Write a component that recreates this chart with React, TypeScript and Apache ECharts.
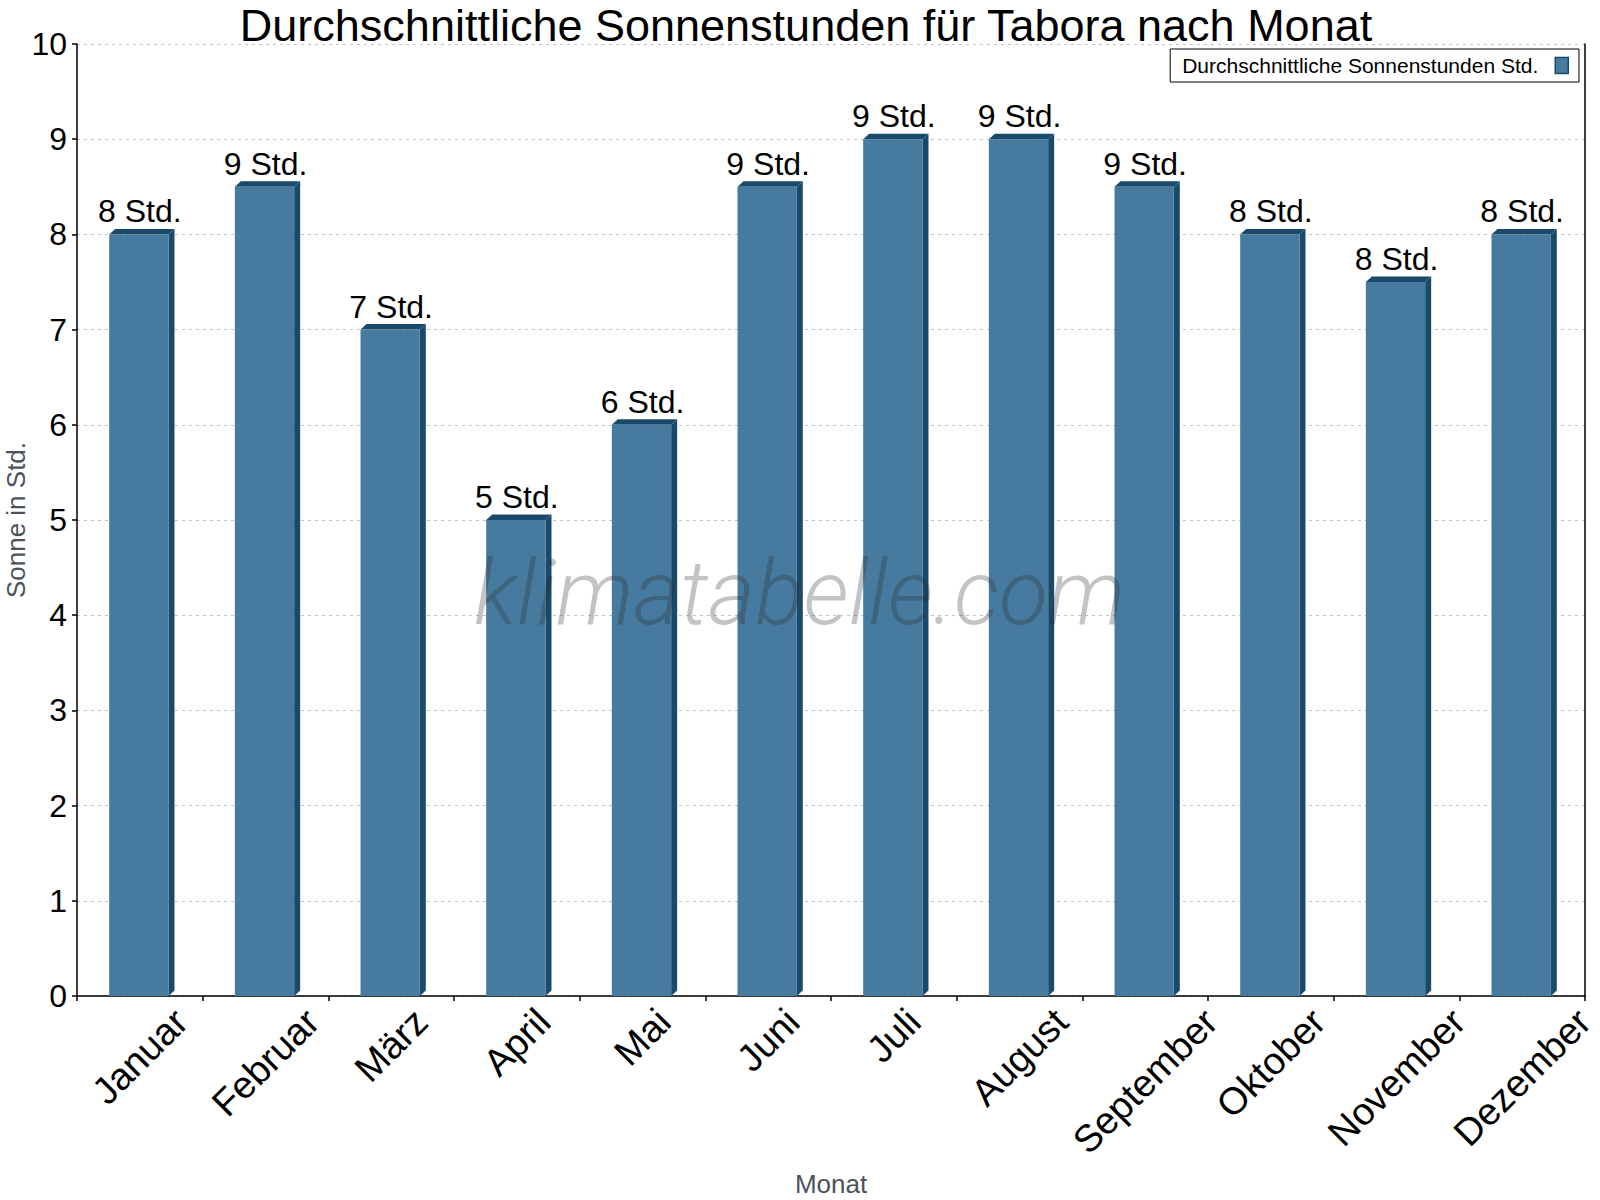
import React, { useEffect, useRef } from "react";
import * as echarts from "echarts";

const TITLE = "Durchschnittliche Sonnenstunden für Tabora nach Monat";
const SERIES_NAME = "Durchschnittliche Sonnenstunden Std.";
const months = ["Januar", "Februar", "März", "April", "Mai", "Juni", "Juli", "August", "September", "Oktober", "November", "Dezember"];
const sunHours = [8, 8.5, 7, 5, 6, 8.5, 9, 9, 8.5, 8, 7.5, 8];
const valueLabels = ["8 Std.", "9 Std.", "7 Std.", "5 Std.", "6 Std.", "9 Std.", "9 Std.", "9 Std.", "9 Std.", "8 Std.", "8 Std.", "8 Std."];
const yMin = 0;
const yMax = 10;
const yInterval = 1;

const FONT = '"Liberation Sans", Arial, Helvetica, sans-serif';
const FRONT = "#467b9f";
const DARK = "#194a6c";
const MONTH_FS = 38;

export default function App() {
  const ref = useRef<HTMLDivElement>(null);

  useEffect(() => {
    if (!ref.current) return;
    const chart = echarts.init(ref.current, undefined, { renderer: "svg" });

    const canvas = document.createElement("canvas");
    const ctx = canvas.getContext("2d");
    const measure = (t: string) => {
      if (!ctx) return t.length * MONTH_FS * 0.55;
      ctx.font = `${MONTH_FS}px "Liberation Sans", Arial, sans-serif`;
      return ctx.measureText(t).width;
    };

    const barData = sunHours.map((v, i) => [i, v]);
    const labelData = months.map((_, i) => [i, 0]);

    const option: any = {
      animation: false,
      backgroundColor: "#ffffff",
      title: {
        text: TITLE,
        left: 806,
        textAlign: "center",
        top: 3,
        padding: 0,
        textStyle: { fontFamily: FONT, fontSize: 45, lineHeight: 45, fontWeight: "normal", color: "#000" },
      },
      legend: {
        data: [{ name: SERIES_NAME, icon: "rect" }],
        right: 21,
        top: 49,
        align: "right",
        orient: "horizontal",
        backgroundColor: "#fff",
        borderColor: "#000",
        borderWidth: 1,
        borderRadius: 0,
        padding: [6, 10, 6, 12],
        itemWidth: 13,
        itemHeight: 16,
        itemStyle: { color: FRONT, borderColor: DARK, borderWidth: 1.5 },
        textStyle: { fontFamily: FONT, fontSize: 21, color: "#000", padding: [0, 12, 0, 0] },
      },
      grid: { left: 77, right: 15, top: 44, bottom: 204, containLabel: false, outerBoundsMode: "none" },
      xAxis: {
        type: "category",
        data: months,
        boundaryGap: true,
        name: "Monat",
        nameLocation: "middle",
        nameGap: 175,
        nameMoveOverlap: false,
        nameTextStyle: { fontFamily: FONT, fontSize: 26, color: "#4b525a" },
        axisLine: { show: true, lineStyle: { color: "#000", width: 1.5 } },
        axisTick: { show: true, inside: false, length: 5, lineStyle: { color: "#000", width: 1.5 } },
        axisLabel: { show: false },
        splitLine: { show: false },
      },
      yAxis: [
        {
          type: "value",
          min: yMin,
          max: yMax,
          interval: yInterval,
          name: "Sonne in Std.",
          nameLocation: "middle",
          nameGap: 48,
          nameRotate: 90,
          nameMoveOverlap: false,
          nameTextStyle: { fontFamily: FONT, fontSize: 26, color: "#4b525a" },
          axisLine: { show: true, lineStyle: { color: "#000", width: 1.5 } },
          axisTick: { show: true, inside: false, length: 5, lineStyle: { color: "#000", width: 1.5 } },
          axisLabel: { fontFamily: FONT, fontSize: 32, color: "#000", margin: 10 },
          splitLine: { show: true, lineStyle: { color: "#c4c4c4", type: [3, 4], width: 1 } },
        },
        {
          type: "value",
          position: "right",
          min: yMin,
          max: yMax,
          interval: yInterval,
          axisLine: { show: true, lineStyle: { color: "#000", width: 1.5 } },
          axisTick: { show: false },
          axisLabel: { show: false },
          splitLine: { show: false },
        },
      ],
      graphic: [
        {
          type: "text",
          left: 474,
          top: 548,
          z: 100,
          silent: true,
          style: {
            text: "klimatabelle.com",
            fontFamily: "Roboto, 'Open Sans', sans-serif",
            fontStyle: "italic",
            fontWeight: 300,
            fontSize: 90,
            fill: "rgba(40,40,40,0.28)",
          },
        },
      ],
      series: [
        {
          name: SERIES_NAME,
          type: "custom",
          xAxisIndex: 0,
          yAxisIndex: 0,
          itemStyle: { color: FRONT, borderColor: DARK },
          encode: { x: 0, y: 1 },
          data: barData,
          renderItem: (params: any, api: any) => {
            const idx = api.value(0);
            const v = api.value(1);
            const top = api.coord([idx, v]);
            const base = api.coord([idx, 0]);
            const bw = api.size([1, 0])[0] * 0.472;
            const left = top[0] - bw / 2 - 1;
            const right = left + bw;
            const d = 6;
            const dy = 5.5;
            return {
              type: "group",
              children: [
                {
                  type: "polygon",
                  shape: { points: [[right, top[1]], [right + d, top[1] - dy], [right + d, base[1] - dy], [right, base[1]]] },
                  style: { fill: DARK },
                },
                {
                  type: "polygon",
                  shape: { points: [[left, top[1]], [left + d, top[1] - dy], [right + d, top[1] - dy], [right, top[1]]] },
                  style: { fill: DARK },
                },
                {
                  type: "rect",
                  shape: { x: left, y: top[1], width: bw, height: base[1] - top[1] },
                  style: { fill: FRONT },
                },
                {
                  type: "text",
                  x: top[0],
                  y: top[1] - 7,
                  style: {
                    text: valueLabels[params.dataIndex],
                    fontFamily: FONT,
                    fontSize: 32,
                    fill: "#000",
                    align: "center",
                    verticalAlign: "bottom",
                  },
                },
              ],
            };
          },
        },
        {
          name: "Monate",
          type: "custom",
          xAxisIndex: 0,
          yAxisIndex: 0,
          encode: { x: 0, y: 1 },
          data: labelData,
          silent: true,
          renderItem: (params: any, api: any) => {
            const idx = api.value(0);
            const p = api.coord([idx, 0]);
            const text = months[params.dataIndex];
            const w = measure(text);
            const h = MONTH_FS * 0.7;
            const cy = p[1] + 10 + (w + h) / (2 * Math.SQRT2);
            return {
              type: "text",
              x: p[0],
              y: cy,
              rotation: Math.PI / 4,
              style: {
                text,
                fontFamily: FONT,
                fontSize: MONTH_FS,
                fill: "#000",
                align: "center",
                verticalAlign: "middle",
              },
            };
          },
        },
      ],
    };

    chart.setOption(option);
    return () => chart.dispose();
  }, []);

  return (
    <div
      ref={ref}
      style={{ position: "absolute", left: 0, top: 0, width: 1600, height: 1200 }}
    />
  );
}
